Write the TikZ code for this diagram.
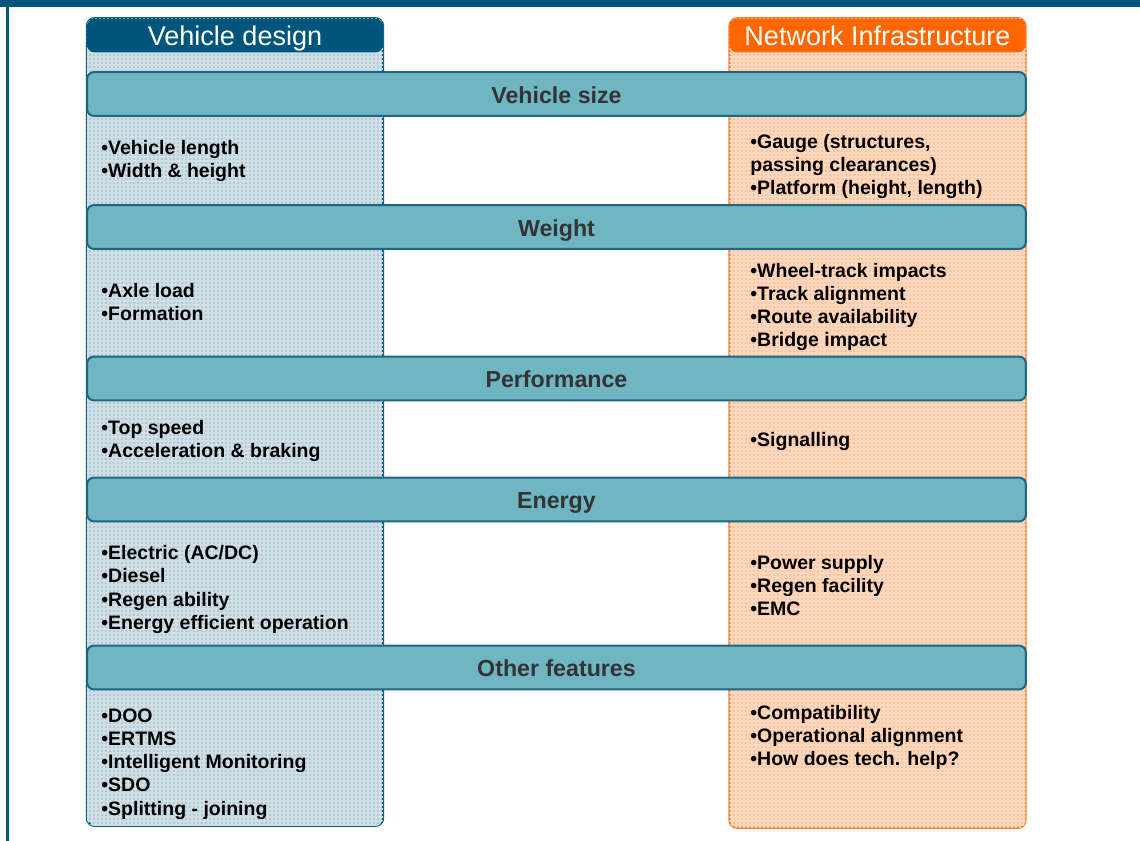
\documentclass[tikz,border=0pt]{standalone}
\usepackage{fontspec}
\setmainfont{Liberation Sans}
\usetikzlibrary{patterns.meta}

\definecolor{vdteal}{HTML}{00557A}
\definecolor{bandfill}{HTML}{70B5C2}
\definecolor{bandline}{HTML}{1F6584}
\definecolor{bandtext}{HTML}{333333}
\definecolor{vdbase}{HTML}{B3CAD4}
\definecolor{vdgrid}{HTML}{D0DFE6}
\definecolor{niorange}{HTML}{FF6600}
\definecolor{niline}{HTML}{FF7A2A}
\definecolor{nibase}{HTML}{FCC49C}
\definecolor{nigrid}{HTML}{FED8BE}

\begin{document}
\begin{tikzpicture}[
  x=0.02cm, y=-0.02cm,
  col/.style={rounded corners=0.16cm, line width=0.04cm, inner sep=0, minimum width=5.93cm},
  vdcol/.style={col, draw=vdteal, fill=vdbase, minimum height=16.16cm,
    postaction={pattern={Hatch[distance=0.08cm, line width=0.03cm]}, pattern color=vdgrid}},
  nicol/.style={col, draw=niline, fill=nibase, minimum height=16.2cm,
    postaction={pattern={Hatch[distance=0.08cm, line width=0.03cm]}, pattern color=nigrid}},
  head/.style={rounded corners=0.16cm, inner sep=0, minimum width=5.93cm, minimum height=0.68cm,
    text height=11.4pt, text depth=0pt, text=white, font=\fontsize{15.4}{18}\selectfont},
  band/.style={draw=bandline, fill=bandfill, line width=0.04cm, rounded corners=0.14cm,
    minimum width=18.78cm, minimum height=0.88cm, inner sep=0, text height=10.8pt, text depth=0pt,
    font=\fontsize{13.2}{15}\selectfont\bfseries, text=bandtext},
  items/.style={anchor=west, align=left, inner sep=0, font=\fontsize{11.1}{13.2}\selectfont\bfseries}]

% frame: top bar and left rule
\fill[vdteal] (0,0) rectangle (1140,7.5);
\fill[vdteal] (6,0) rectangle (8.6,841);

% the two columns
\node[vdcol] (vdbody) at (235,422) {};
\node[nicol] (nibody) at (877.5,423) {};
\node[head, fill=vdteal] (vdhead) at (235,35.5) {Vehicle design};
\node[head, fill=niorange] (nihead) at (877.5,35.5) {Network Infrastructure};

% topic bands across both columns
\node[band] (size) at (556.5,94) {Vehicle size};
\node[band] (weight) at (556.5,227) {Weight};
\node[band] (perf) at (556.5,378.5) {Performance};
\node[band] (energy) at (556.5,499.5) {Energy};
\node[band] (other) at (556.5,667.5) {Other features};

% vehicle side
\node[items] (vdsize) at (101,161) {•Vehicle length\\•Width \& height};
\node[items] (vdweight) at (101,302) {•Axle load\\•Formation};
\node[items] (vdperf) at (101,441) {•Top speed\\•Acceleration \& braking};
\node[items] (vdenergy) at (101,589.5) {•Electric (AC/DC)\\•Diesel\\•Regen ability\\•Energy efficient operation};
\node[items] (vdother) at (101,764) {•DOO\\•ERTMS\\•Intelligent Monitoring\\•SDO\\•Splitting - joining};

% infrastructure side
\node[items] (nisize) at (750,166.5) {•Gauge (structures,\\passing clearances)\\•Platform (height, length)};
\node[items] (niweight) at (750,307) {•Wheel-track impacts\\•Track alignment\\•Route availability\\•Bridge impact};
\node[items] (niperf) at (750,441.5) {•Signalling};
\node[items] (nienergy) at (750,585.5) {•Power supply\\•Regen facility\\•EMC};
\node[items] (niother) at (750,737.5) {•Compatibility\\•Operational alignment\\•How does tech. help?};

\useasboundingbox (0,0) rectangle (1140,841);
\end{tikzpicture}
\end{document}
